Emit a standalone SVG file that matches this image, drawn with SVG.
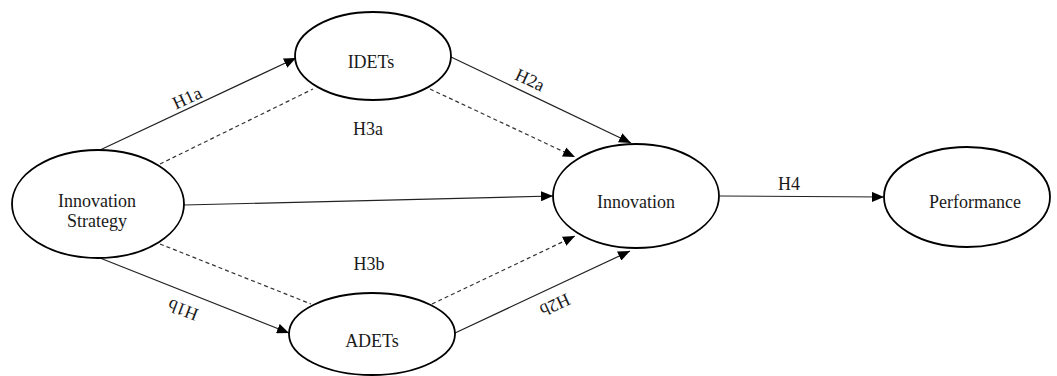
<svg xmlns="http://www.w3.org/2000/svg" width="1057" height="376" viewBox="0 0 1057 376">
<defs>
<marker id="arr" viewBox="0 0 12 10" refX="12" refY="5" markerWidth="12" markerHeight="10" markerUnits="userSpaceOnUse" orient="auto">
<path d="M0,0 L12,5 L0,10 Z" fill="#000"/>
</marker>
<style>
.node{fill:#fff;stroke:#000;stroke-width:1.8}
.t{font-family:'Liberation Serif','DejaVu Serif',serif;font-size:18px;fill:#1a1a1a;text-anchor:middle}
.s{fill:none;stroke:#222;stroke-width:1.2;marker-end:url(#arr)}
.d{fill:none;stroke:#333;stroke-width:1.2;stroke-dasharray:4 3;marker-end:url(#arr)}
.dn{fill:none;stroke:#333;stroke-width:1.2;stroke-dasharray:4 3}
</style>
</defs>
<rect width="1057" height="376" fill="#fff"/>
<g id="connectors">
<line class="s" x1="100" y1="150" x2="296" y2="58"/>
<line class="dn" x1="160" y1="164" x2="313" y2="89"/>
<line class="s" x1="451" y1="57" x2="631" y2="143"/>
<line class="d" x1="430" y1="89" x2="575" y2="157"/>
<line class="s" x1="184" y1="205" x2="553" y2="196"/>
<line class="dn" x1="160" y1="244" x2="311" y2="304"/>
<line class="s" x1="100" y1="258" x2="289" y2="333"/>
<line class="d" x1="432" y1="304" x2="575" y2="236"/>
<line class="s" x1="455" y1="333" x2="630" y2="251"/>
<line class="s" x1="720" y1="196" x2="884" y2="197"/>
<text class="t" transform="translate(187,98) rotate(-25)" y="6">H1a</text>
<text class="t" transform="translate(530,80) rotate(25)" y="6">H2a</text>
<text class="t" transform="translate(183,310) rotate(201)" y="6">H1b</text>
<text class="t" transform="translate(555,305) rotate(155)" y="6">H2b</text>
<text class="t" x="368" y="135">H3a</text>
<text class="t" x="369" y="270">H3b</text>
<text class="t" x="789" y="190">H4</text>
</g>
<g id="innovation-strategy">
<ellipse class="node" cx="98" cy="204" rx="86" ry="54"/>
<text class="t" x="97" y="207">Innovation</text>
<text class="t" x="97" y="227">Strategy</text>
</g>
<g id="idets">
<ellipse class="node" cx="373" cy="56" rx="78" ry="44"/>
<text class="t" x="371" y="68">IDETs</text>
</g>
<g id="adets">
<ellipse class="node" cx="372" cy="334" rx="83" ry="41"/>
<text class="t" x="372" y="347">ADETs</text>
</g>
<g id="innovation">
<ellipse class="node" cx="636" cy="196" rx="83" ry="52"/>
<text class="t" x="636" y="208">Innovation</text>
</g>
<g id="performance">
<ellipse class="node" cx="967" cy="197" rx="83" ry="50"/>
<text class="t" x="975" y="208">Performance</text>
</g>
</svg>
